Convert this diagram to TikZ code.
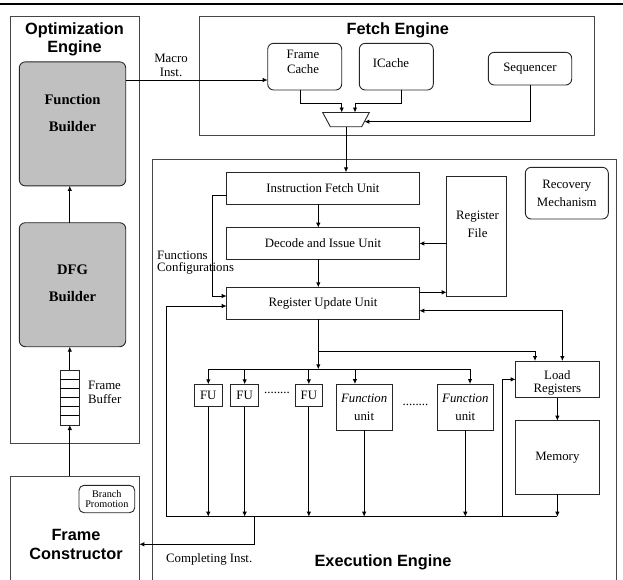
\documentclass[tikz,border=0pt]{standalone}
\usepackage{fontspec}
\setmainfont{Liberation Serif}
\newfontfamily\headfont{Liberation Sans}
\usetikzlibrary{arrows.meta,calc}
\definecolor{buildgray}{RGB}{192,192,192}
\definecolor{edgegray}{RGB}{70,70,70}
\newcommand{\unitfont}{\fontsize{12.8}{14.7}\selectfont}
\newcommand{\headtitlefont}{\headfont\bfseries\fontsize{16.3}{18}\selectfont}
\tikzset{
  enginebox/.style={draw=edgegray, line width=1pt, inner sep=0pt, outer sep=0pt},
  ubox/.style={draw=black!85, line width=0.9pt, inner sep=0pt, outer sep=0pt, align=center, font=\unitfont},
  rbox/.style={ubox, rounded corners=6pt},
  builder/.style={rbox, fill=buildgray, minimum width=106.4pt, minimum height=124pt},
  buildtext/.style={align=center, inner sep=0pt, font=\bfseries\fontsize{14.6}{27.4}\selectfont},
  enginetitle/.style={align=center, inner sep=0pt, font=\headtitlefont},
  txt/.style={align=center, inner sep=0pt, font=\unitfont},
  flow/.style={-{Latex[length=5pt,width=4.5pt]}, line width=0.9pt},
  flowboth/.style={{Latex[length=5pt,width=4.5pt]}-{Latex[length=5pt,width=4.5pt]}, line width=0.9pt},
}
\begin{document}
\begin{tikzpicture}[x=1pt,y=-1pt]
  \path[clip,use as bounding box] (0,0) rectangle (623,579);
  \draw[line width=1.6pt] (0,4) -- (623,4);
  % optimization engine
  \node[enginebox, minimum width=129pt, minimum height=427pt] (opt) at (74.5,229.5) {};
  \node[enginetitle] (opttitle) at (74.5,39) {Optimization\\Engine};
  \node[builder] (fb) at (72.5,123.85) {};
  \node[buildtext] (fbtext) at (72.5,113) {Function\\Builder};
  \node[builder] (dfg) at (72.5,284.7) {};
  \node[buildtext] (dfgtext) at (72.5,283) {DFG\\Builder};
  \node[ubox, minimum width=19pt, minimum height=55pt] (buf) at (69.8,397.5) {};
  \foreach \i in {1,...,5}
    \draw[line width=0.9pt] (60.3,370+\i*9.17) -- (79.3,370+\i*9.17);
  \node[txt, align=left, anchor=west, font=\fontsize{12.8}{13.6}\selectfont] (buflabel) at (88,392.5) {Frame\\Buffer};
  % frame constructor
  \node[enginebox, minimum width=129.3pt, minimum height=136.6pt] (fcons) at (74.65,544.3) {};
  \node[enginetitle, font=\headfont\bfseries\fontsize{16.3}{19}\selectfont] (fconstitle) at (76,544) {Frame\\Constructor};
  \node[rbox, rounded corners=5pt, minimum width=55.7pt, minimum height=27.4pt, font=\fontsize{10.2}{10}\selectfont] (bp) at (106.85,499) {Branch\\Promotion};
  % fetch engine
  \node[enginebox, minimum width=395pt, minimum height=119pt] (fetch) at (396.5,75.5) {};
  \node[enginetitle] (fetchtitle) at (397.8,30) {Fetch Engine};
  \node[rbox, minimum width=74pt, minimum height=46.7pt] (fcache) at (304.7,66.65) {};
  \node[txt] (fcachetext) at (303,61.7) {Frame\\Cache};
  \node[rbox, minimum width=74pt, minimum height=46.7pt] (icache) at (396.3,66.65) {};
  \node[txt] (icachetext) at (391,62.7) {ICache};
  \node[rbox, minimum width=83.4pt, minimum height=32.7pt] (seq) at (530,68.65) {Sequencer};
  % multiplexer
  \draw[draw=black!85, line width=0.9pt] (322.7,112.5) -- (369.3,112.5) -- (361.7,126.7) -- (330.3,126.7) -- cycle;
  \coordinate (muxN) at (346,112.5);
  \coordinate (muxS) at (346,126.7);
  \coordinate (muxE) at (364.4,121.7);
  % execution engine
  \node[enginebox, minimum width=464pt, minimum height=441pt] (exec) at (384.7,379.5) {};
  \node[enginetitle] (exectitle) at (383,562.3) {Execution Engine};
  \node[ubox, minimum width=192.6pt, minimum height=32pt] (ifu) at (323,188.3) {Instruction Fetch Unit};
  \node[ubox, minimum width=192.6pt, minimum height=31.6pt] (diu) at (323,243.5) {Decode and Issue Unit};
  \node[ubox, minimum width=192.6pt, minimum height=32pt] (ruu) at (323,303.3) {Register Update Unit};
  \node[ubox, minimum width=60pt, minimum height=120pt] (rf) at (476.7,236.7) {};
  \node[txt, font=\fontsize{12.8}{17.7}\selectfont] (rftext) at (477.5,224) {Register\\File};
  \node[rbox, minimum width=83pt, minimum height=51.7pt, font=\fontsize{12.8}{18.4}\selectfont] (rec) at (566.8,193.15) {Recovery\\Mechanism};
  \node[txt, align=left, anchor=west, font=\fontsize{12.8}{12.3}\selectfont] (fconf) at (157,262.8) {Functions\\Configurations};
  \foreach \n/\x in {fu1/208.3, fu2/244.65, fu3/308.85}
    \node[ubox, minimum width=27.5pt, minimum height=22.4pt] (\n) at (\x,395.5) {FU};
  \node[txt] (dots1) at (277,393.3) {........};
  \foreach \n/\x in {fun1/364.15, fun2/465.3}
    \node[ubox, minimum width=56.2pt, minimum height=46pt, font=\fontsize{12.8}{17.7}\selectfont] (\n) at (\x,407) {\textit{Function}\\unit};
  \node[txt] (dots2) at (415.5,405) {........};
  \node[ubox, minimum width=83.3pt, minimum height=36.7pt] (lr) at (557.35,379.35) {};
  \node[txt, font=\fontsize{12.8}{13.3}\selectfont] (lrtext) at (557.35,382.7) {Load\\Registers};
  \node[ubox, minimum width=83.3pt, minimum height=73.6pt] (mem) at (557.35,457.5) {Memory};
  % optimization engine flow
  \draw[flow] (fcons.north -| buf.south) -- (buf.south);
  \draw[flow] (buf.north) -- (buf.north |- dfg.south);
  \draw[flow] (dfg.north -| buf.north) -- (fb.south -| buf.north);
  \draw[flow] ([yshift=43.85pt]fb.east) coordinate (m1) -- (m1 -| fcache.west);
  \node[txt, font=\fontsize{12.8}{14}\selectfont] (macro) at (171,65) {Macro\\Inst.};
  % fetch flow
  \draw[flow] ([xshift=-4.7pt]fcache.south) -- ++(0,13.3) -| ([xshift=-4.3pt]muxN);
  \draw[flow] ([xshift=5.4pt]icache.south) -- ++(0,13.3) -| ([xshift=9pt]muxN);
  \draw[flow] (seq.south) |- (muxE);
  \draw[flow] (muxS) -- (muxS |- ifu.north);
  % execution flow
  \draw[flow] ([xshift=-4.7pt]ifu.south) -- ([xshift=-4.7pt]diu.north);
  \draw[flow] ([xshift=-4.7pt]diu.south) -- ([xshift=-4.7pt]ruu.north);
  \draw[flow] (rf.west |- diu.east) -- (diu.east);
  \draw[flow] ([yshift=11pt]ruu.east) coordinate (r1) -- (r1 -| rf.west);
  \draw[flow] ([yshift=-7.4pt]ifu.west) -- ++(-14,0) |- ([yshift=7.3pt]ruu.west);
  \draw[flowboth] ([yshift=-7.4pt]ruu.east) -| ([xshift=5pt]lr.north);
  \coordinate (fusplit) at (318.3,369.3);
  \draw[flow] ([xshift=-4.7pt]ruu.south) -- (fusplit);
  \draw[flow] ($(ruu.south)+(-4.7,32.4)$) -| ([xshift=-22.35pt]lr.north);
  \draw[line width=0.9pt] (fusplit -| fu1.north) -- ($(fusplit -| fun2.north)+(4.7,0)$);
  \foreach \n/\dx in {fu1/0, fu2/0, fu3/0, fun1/-9.2, fun2/4.7}
    \draw[flow] ($(fusplit -| \n.north)+(\dx,0)$) -- ($(\n.north)+(\dx,0)$);
  \coordinate (busW) at (166.7,516.7);
  \foreach \n in {fu1,fu2,fu3,fun1,fun2,mem}
    \draw[flow] (\n.south) -- (\n.south |- busW);
  \draw[line width=0.9pt] (busW) -- (mem.south |- busW);
  \draw[flow] (busW) |- ([yshift=-2.7pt]ruu.west);
  \draw[flow] (busW -| 502.3,0) |- (lr.west);
  \draw[flow] (lr.south) -- (mem.north);
  \coordinate (cmp) at (254.3,516.7);
  \draw[flow] (cmp) |- (fcons.east);
  \node[txt, anchor=west] (cmplabel) at (166,559) {Completing Inst.};
\end{tikzpicture}
\end{document}
